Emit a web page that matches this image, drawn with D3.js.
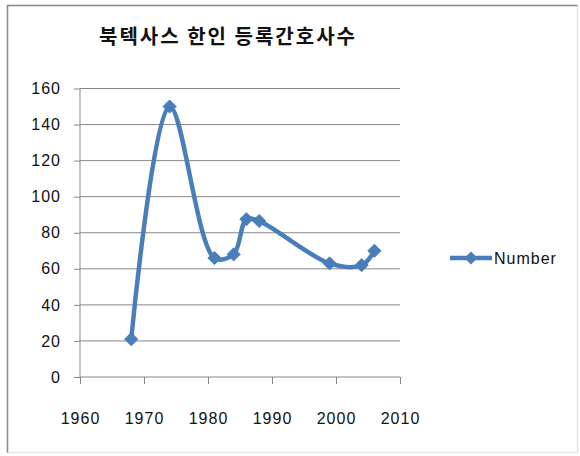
<!DOCTYPE html>
<html>
<head>
  <meta charset="UTF-8">
  <title>북텍사스 한인 등록간호사수</title>
  <style>
    body{
        margin: 0;
        background-color: #fff;
    }
    .tick text{
        font-family: "Liberation Sans", sans-serif;
        font-size: 16px;
        letter-spacing: 1px;
        fill: #111;
    }
  </style>
</head>
<body>
<svg></svg>
<script src="https://cdnjs.cloudflare.com/ajax/libs/d3/7.8.5/d3.min.js"></script>

<script>

let width = 580, height = 456;

// data
let years = [1968, 1974, 1981, 1984, 1986, 1988, 1999, 2004, 2006];
let nurses = [21, 150, 66, 68, 87.5, 86.5, 63, 62, 70];
let xTicks = [1960, 1970, 1980, 1990, 2000, 2010];
let yTicks = [0, 20, 40, 60, 80, 100, 120, 140, 160];
let seriesName = "Number";

let svg = d3.select("svg")
    .attr("width", width)
    .attr("height", height);

// outer chart frame: dark on left/top, faint on right/bottom
svg.append("rect")
    .attr("x", 7.5)
    .attr("y", 5.5)
    .attr("width", 570)
    .attr("height", 447)
    .attr("fill", "#fff")
    .attr("stroke", "#e4e4e4")
    .attr("stroke-width", 1.5);
svg.append("path")
    .attr("d", "M7.5,452.5V5.5H577.5")
    .attr("fill", "none")
    .attr("stroke", "#8a8a8a")
    .attr("stroke-width", 1.5);

var x = d3.scaleLinear()
    .domain([1960, 2010])
    .range([80, 400]);

var y = d3.scaleLinear()
    .domain([0, 160])
    .range([377, 88.5]);

// gridlines
svg.append("g")
    .selectAll("line")
    .data(yTicks.slice(1))
    .enter().append("line")
    .attr("x1", x.range()[0])
    .attr("x2", x.range()[1])
    .attr("y1", d => y(d))
    .attr("y2", d => y(d))
    .attr("stroke", "#878787")
    .attr("stroke-width", 1);

// y axis
let yAxis = svg.append("g")
    .attr("transform", "translate(" + x.range()[0] + ",0)")
    .call(d3.axisLeft(y).tickValues(yTicks).tickSize(6).tickPadding(13).tickFormat(d3.format("d")));
yAxis.selectAll("line, path").attr("stroke", "#878787");
yAxis.select(".domain").attr("d", "M0," + y(0) + "V" + y(160));

// x axis
let xAxis = svg.append("g")
    .attr("transform", "translate(0," + y(0) + ")")
    .call(d3.axisBottom(x).tickValues(xTicks).tickSize(7).tickPadding(29).tickFormat(d3.format("d")));
xAxis.selectAll("line, path").attr("stroke", "#878787");
xAxis.select(".domain").attr("d", "M" + x(1960) + ",0H" + x(2010));

let points = years.map((yr, i) => [yr, nurses[i]]);

let line = d3.line()
    .x(d => x(d[0]))
    .y(d => y(d[1]))
    .curve(d3.curveCatmullRom.alpha(0.5));

svg.append("path")
    .datum(points)
    .attr("d", line)
    .attr("fill", "none")
    .attr("stroke", "#4a7ebb")
    .attr("stroke-width", 4.5)
    .attr("stroke-linejoin", "round");

let diamond = d3.symbol().type(d3.symbolDiamond2).size(110);

svg.append("g")
    .selectAll("path")
    .data(points)
    .enter().append("path")
    .attr("d", diamond)
    .attr("transform", d => "translate(" + x(d[0]) + "," + y(d[1]) + ")")
    .attr("fill", "#4a7ebb")
    .attr("stroke", "#4a7ebb")
    .attr("stroke-width", 1);

// title
svg.append("text")
    .attr("x", 228)
    .attr("y", 44)
    .attr("text-anchor", "middle")
    .attr("font-family", "'Noto Sans CJK KR', sans-serif")
    .attr("font-weight", "bold")
    .attr("font-size", 20)
    .attr("letter-spacing", 2)
    .attr("fill", "#111")
    .text("북텍사스 한인 등록간호사수");

// legend
let lg = svg.append("g").attr("transform", "translate(450,258)");
lg.append("line")
    .attr("x1", 0).attr("x2", 42)
    .attr("stroke", "#4a7ebb")
    .attr("stroke-width", 4.5);
lg.append("path")
    .attr("d", diamond)
    .attr("transform", "translate(21,0)")
    .attr("fill", "#4a7ebb");
lg.append("text")
    .attr("x", 44)
    .attr("y", 6)
    .attr("font-family", "'Liberation Sans', sans-serif")
    .attr("font-size", 16)
    .attr("letter-spacing", 1)
    .attr("fill", "#111")
    .text(seriesName);

</script>

</body>
</html>
